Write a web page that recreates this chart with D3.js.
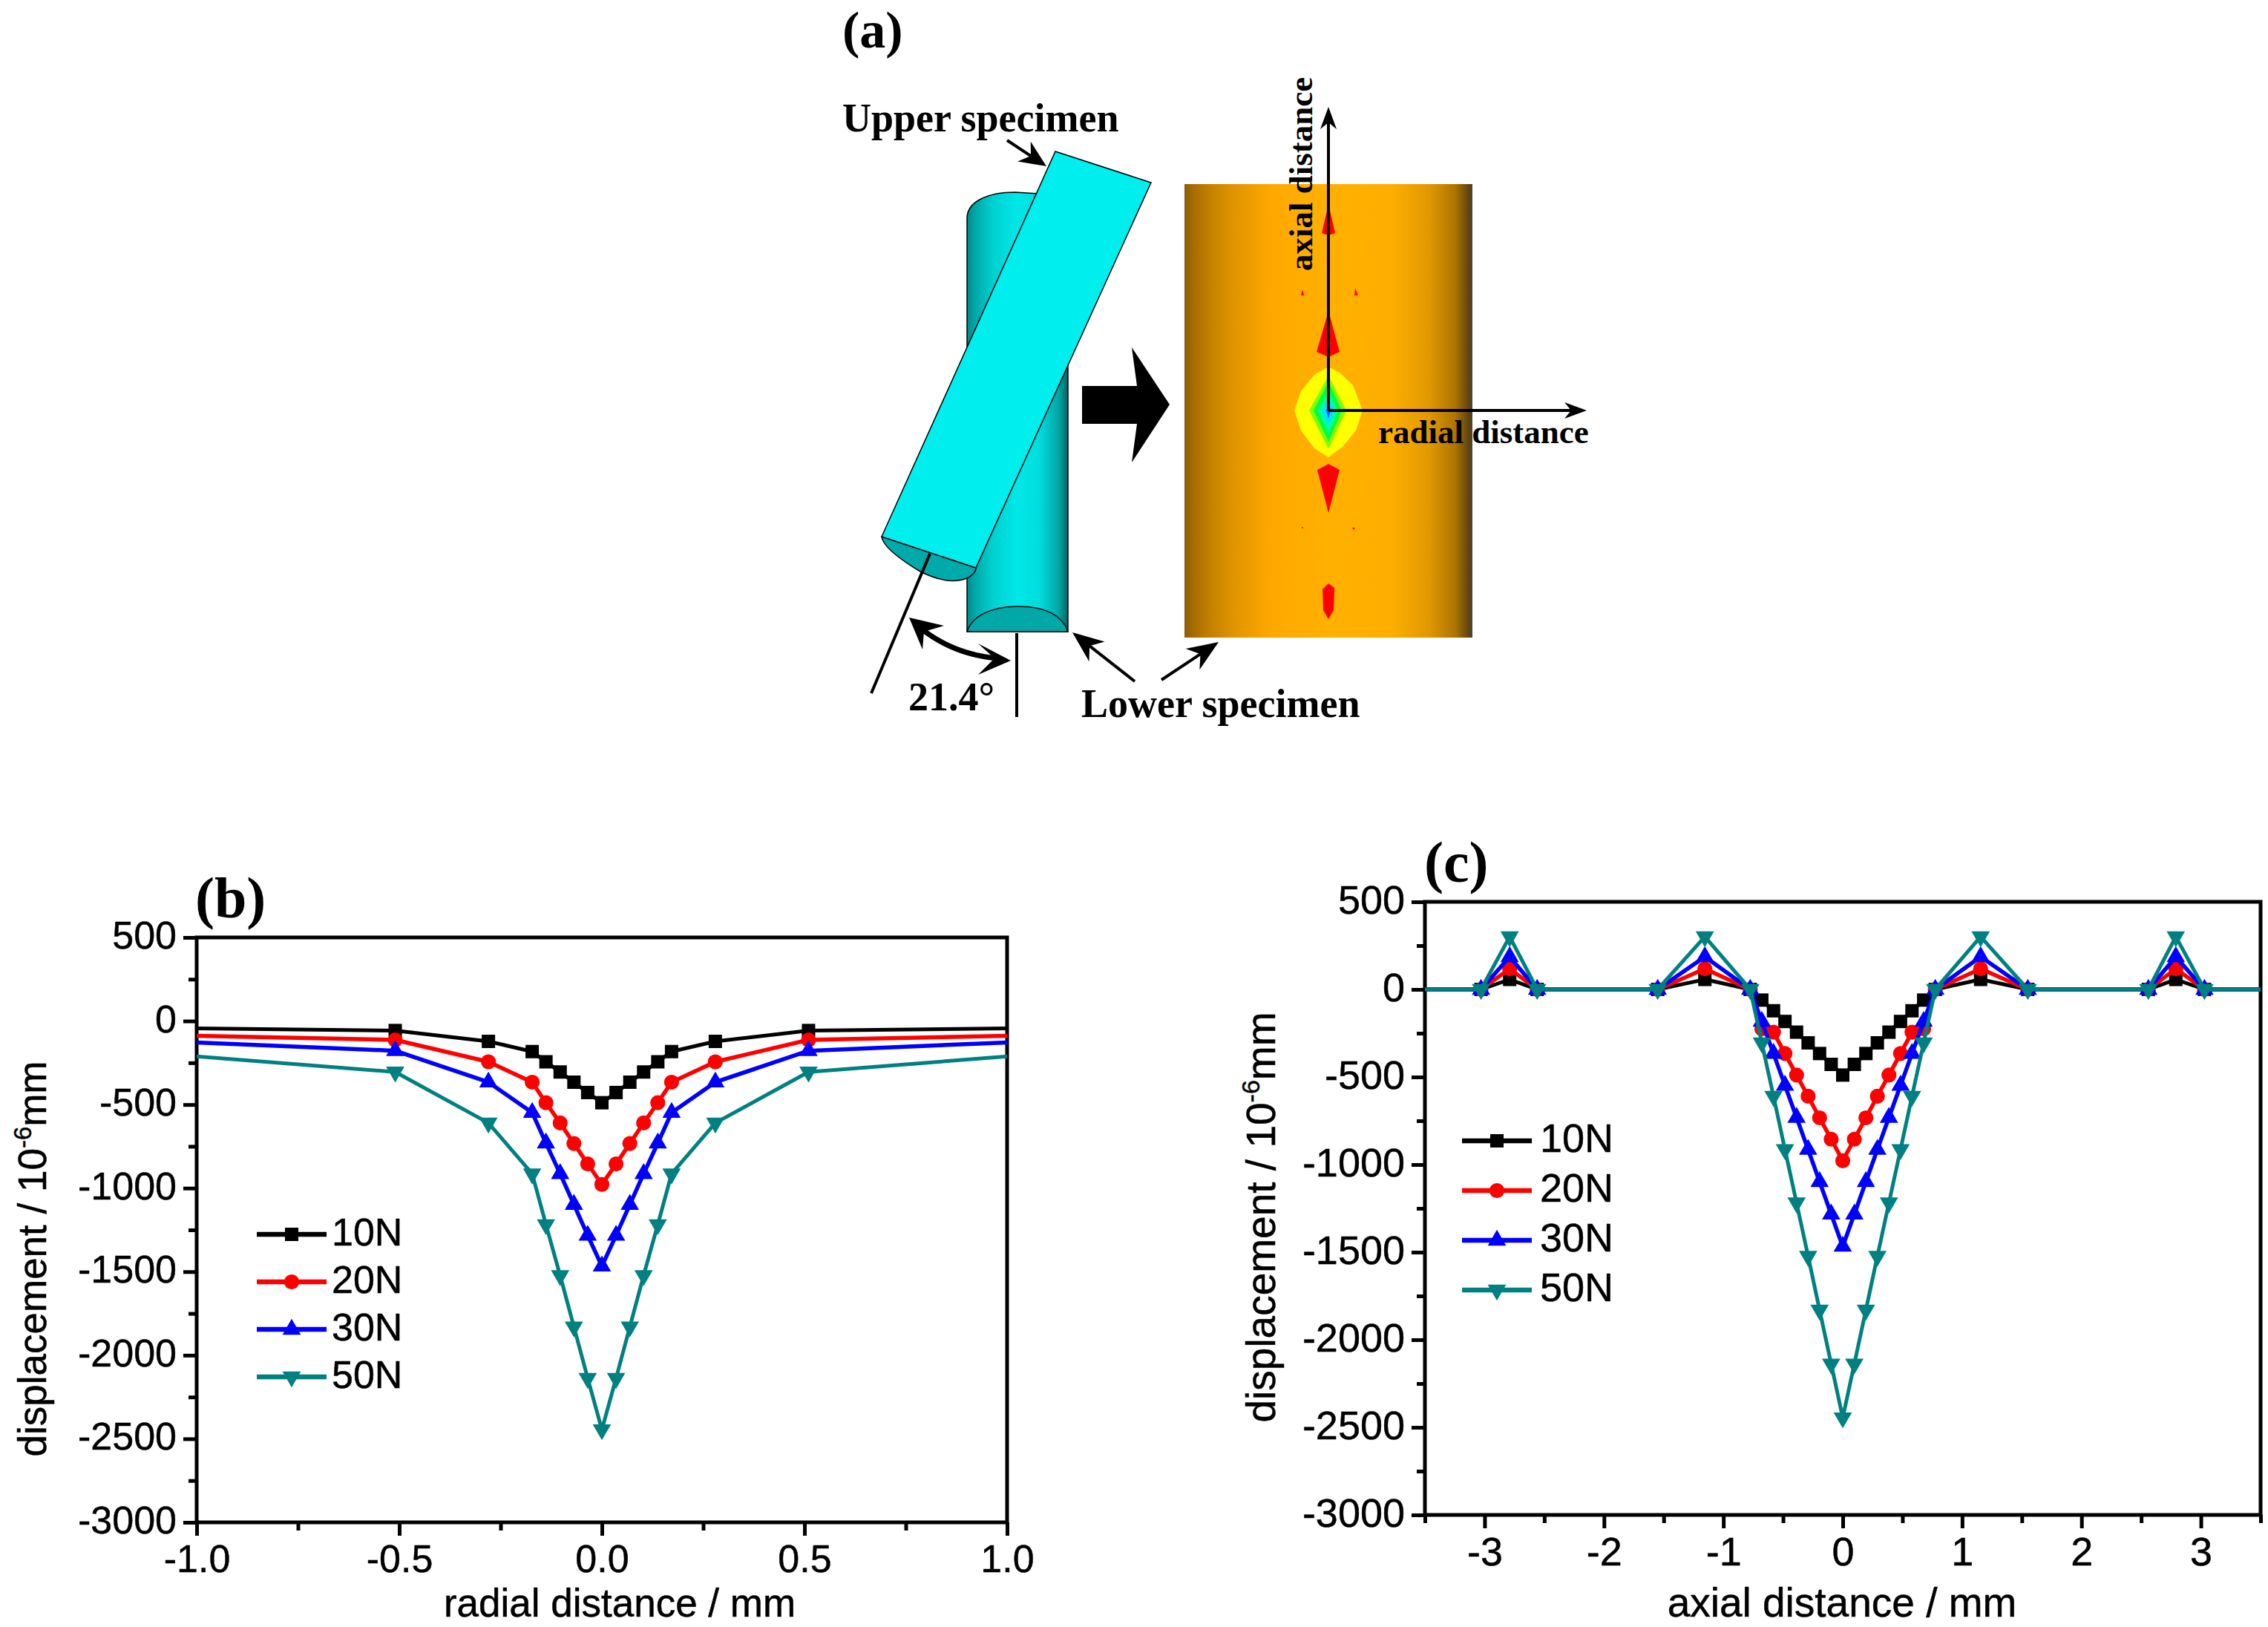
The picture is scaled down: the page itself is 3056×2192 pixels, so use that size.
<!DOCTYPE html>
<html>
<head>
<meta charset="utf-8">
<script src="https://cdn.jsdelivr.net/npm/d3@7"></script>
<style>
  html, body { margin: 0; padding: 0; background: #fff; }
  svg { display: block; }
  text { fill: #000; }
  .sans { font-family: "Liberation Sans", Arial, sans-serif; }
  .sans text { stroke: #000; stroke-width: 0.5px; }
  .serif { font-family: "Liberation Serif", "Times New Roman", serif; font-weight: bold; }
</style>
</head>
<body>
<svg id="figure" width="3056" height="2192"></svg>
<script>
// panel (b), radial distance profile
var radialX = [-1, -0.51, -0.28, -0.172, -0.138, -0.103, -0.069, -0.035, 0, 0.035, 0.069, 0.103, 0.138, 0.172, 0.28, 0.51, 1];
var radial10N = [-44, -57, -122, -183, -244, -305, -366, -428, -489, -428, -366, -305, -244, -183, -122, -57, -44];
var radial20N = [-88, -113, -244, -366, -489, -610, -733, -855, -978, -855, -733, -610, -489, -366, -244, -113, -88];
var radial30N = [-128, -178, -366, -548, -731, -914, -1098, -1283, -1467, -1283, -1098, -914, -731, -548, -366, -178, -128];
var radial50N = [-212, -305, -610, -914, -1218, -1523, -1830, -2138, -2445, -2138, -1830, -1523, -1218, -914, -610, -305, -212];

// panel (c), axial distance profile
var axialX = [-3.5, -3.03, -2.79, -2.56, -1.55, -1.155, -0.775, -0.678, -0.58, -0.484, -0.387, -0.29, -0.194, -0.097, 0,
  0.097, 0.194, 0.29, 0.387, 0.484, 0.58, 0.678, 0.775, 1.155, 1.55, 2.56, 2.79, 3.03, 3.5];
var axial10N = [0, 0, 57, 0, 0, 57, 0, -61, -122, -183, -244, -305, -366, -428, -489,
  -428, -366, -305, -244, -183, -122, -61, 0, 57, 0, 0, 57, 0, 0];
var axial20N = [0, 0, 118, 0, 0, 118, 0, -225, -244, -366, -489, -610, -733, -855, -978,
  -855, -733, -610, -489, -366, -244, -225, 0, 118, 0, 0, 118, 0, 0];
var axial30N = [0, 0, 186, 0, 0, 186, 0, -183, -366, -548, -731, -914, -1098, -1283, -1467,
  -1283, -1098, -914, -731, -548, -366, -183, 0, 186, 0, 0, 186, 0, 0];
var axial50N = [0, 0, 301, 0, 0, 301, 0, -305, -610, -914, -1218, -1523, -1830, -2138, -2445,
  -2138, -1830, -1523, -1218, -914, -610, -305, 0, 301, 0, 0, 301, 0, 0];

var seriesNames = ["10N", "20N", "30N", "50N"];
var seriesColors = ["#000000", "#ff0000", "#0000ff", "#008080"];
var seriesWidths = [5, 5.5, 5.5, 5];

var yMajor = [500, 0, -500, -1000, -1500, -2000, -2500, -3000];
var yMinor = [250, -250, -750, -1250, -1750, -2250, -2750];
var radialMajor = [-1, -0.5, 0, 0.5, 1];
var radialMinor = [-0.75, -0.25, 0.25, 0.75];
var axialMajor = [-3, -2, -1, 0, 1, 2, 3];
var axialMinor = [-3.5, -2.5, -1.5, -0.5, 0.5, 1.5, 2.5, 3.5];

var svg = d3.select("#figure");

function drawMarker(g, index, x, y) {
  var symbols = [
    d3.symbol().type(d3.symbolSquare).size(324),
    d3.symbol().type(d3.symbolCircle).size(320),
    d3.symbol().type(d3.symbolTriangle).size(265),
    d3.symbol().type(d3.symbolTriangle).size(265)
  ];
  g.append("path")
    .attr("d", symbols[index]())
    .attr("fill", seriesColors[index])
    .attr("transform", "translate(" + x + "," + y + ")" + (index === 3 ? " rotate(180)" : ""));
}

function drawPanel(o) {
  var x = d3.scaleLinear().domain(o.xDomain).range([o.left, o.right]);
  var y = d3.scaleLinear().domain([500, -3000]).range([o.top, o.bottom]);
  var g = svg.append("g").attr("class", "sans");

  // minor ticks first, labels come from the major axes
  g.append("g").attr("transform", "translate(0," + o.bottom + ")")
    .call(d3.axisBottom(x).tickValues(o.xMinor).tickSize(11).tickSizeOuter(0).tickFormat(""))
    .call(styleAxis);
  g.append("g").attr("transform", "translate(" + o.left + ",0)")
    .call(d3.axisLeft(y).tickValues(yMinor).tickSize(11).tickSizeOuter(0).tickFormat(""))
    .call(styleAxis);

  g.append("g").attr("transform", "translate(0," + o.bottom + ")")
    .call(d3.axisBottom(x).tickValues(o.xMajor).tickSize(18).tickSizeOuter(0).tickPadding(12).tickFormat(o.xFormat))
    .call(styleAxis)
    .selectAll("text").style("font-size", o.tickFont + "px");
  g.append("g").attr("transform", "translate(" + o.left + ",0)")
    .call(d3.axisLeft(y).tickValues(yMajor).tickSize(18).tickSizeOuter(0).tickPadding(9).tickFormat(String))
    .call(styleAxis)
    .selectAll("text").style("font-size", o.tickFont + "px").attr("dy", "0.28em");

  g.append("rect")
    .attr("x", o.left).attr("y", o.top)
    .attr("width", o.right - o.left).attr("height", o.bottom - o.top)
    .attr("fill", "none").attr("stroke", "#000").attr("stroke-width", 5);

  var line = d3.line()
    .x(function (d) { return x(d.x); })
    .y(function (d) { return y(d.y); });

  o.series.forEach(function (values, i) {
    var points = values.map(function (v, j) { return { x: o.xs[j], y: v }; });
    g.append("path").datum(points)
      .attr("d", line)
      .attr("fill", "none")
      .attr("stroke", seriesColors[i])
      .attr("stroke-width", seriesWidths[i])
      .attr("stroke-linejoin", "round");
    points.forEach(function (p) {
      // no symbols on the two points sitting on the frame
      if (p.x > o.xDomain[0] && p.x < o.xDomain[1]) {
        drawMarker(g, i, x(p.x), y(p.y));
      }
    });
  });

  // legend
  seriesNames.forEach(function (name, i) {
    var ly = o.legendY + i * o.legendStep;
    g.append("line")
      .attr("x1", o.legendX).attr("x2", o.legendX + 94)
      .attr("y1", ly).attr("y2", ly)
      .attr("stroke", seriesColors[i]).attr("stroke-width", 6.5);
    drawMarker(g, i, o.legendX + 47, ly);
    g.append("text")
      .attr("x", o.legendX + o.legendGap).attr("y", ly + o.legendFont * 0.28)
      .style("font-size", o.legendFont + "px")
      .text(name);
  });

  // axis titles
  g.append("text")
    .attr("x", o.xTitleX).attr("y", o.xTitleY)
    .attr("text-anchor", "middle")
    .style("font-size", o.titleFont + "px")
    .text(o.xTitle);

  var yt = g.append("text")
    .attr("transform", "translate(" + o.yTitleX + "," + o.yTitleY + ") rotate(-90)")
    .attr("text-anchor", "middle")
    .style("font-size", o.titleFont + "px");
  yt.append("tspan").text("displacement / 10");
  yt.append("tspan").attr("dy", -o.titleFont * 0.38).style("font-size", (o.titleFont * 0.62) + "px").text("-6");
  yt.append("tspan").attr("dy", o.titleFont * 0.38).text("mm");

  svg.append("text").attr("class", "serif")
    .attr("x", o.labelX).attr("y", o.labelY)
    .style("font-size", o.labelFont + "px")
    .text(o.label);
}

function styleAxis(sel) {
  sel.select(".domain").remove();
  sel.selectAll(".tick line").attr("stroke", "#000").attr("stroke-width", 5);
  sel.selectAll(".tick text").attr("fill", "#000").style("font-family", "'Liberation Sans', Arial, sans-serif");
  sel.attr("font-family", null).attr("font-size", null);
}

drawPanel({
  left: 265, right: 1357, top: 1263, bottom: 2051,
  xDomain: [-1, 1], xs: radialX,
  series: [radial10N, radial20N, radial30N, radial50N],
  xMajor: radialMajor, xMinor: radialMinor,
  xFormat: function (d) { return d.toFixed(1); },
  tickFont: 52, titleFont: 53, legendFont: 52, labelFont: 78,
  legendX: 346, legendY: 1663, legendStep: 64, legendGap: 101,
  xTitle: "radial distance / mm", xTitleX: 835, xTitleY: 2178,
  yTitleX: 62, yTitleY: 1696,
  label: "(b)", labelX: 263, labelY: 1236
});

drawPanel({
  left: 1920, right: 3046, top: 1215, bottom: 2041,
  xDomain: [-3.5, 3.5], xs: axialX,
  series: [axial10N, axial20N, axial30N, axial50N],
  xMajor: axialMajor, xMinor: axialMinor,
  xFormat: String,
  tickFont: 54, titleFont: 55, legendFont: 54, labelFont: 78,
  legendX: 1970, legendY: 1537, legendStep: 67, legendGap: 105,
  xTitle: "axial distance / mm", xTitleX: 2482, xTitleY: 2178,
  yTitleX: 1718, yTitleY: 1640,
  label: "(c)", labelX: 1919, labelY: 1188
});

// panel (a), the sketch of the crossed cylinders
var defs = svg.append("defs");

function gradient(id, stops) {
  var g = defs.append("linearGradient").attr("id", id)
    .attr("x1", "0%").attr("x2", "100%").attr("y1", "0%").attr("y2", "0%");
  stops.forEach(function (s) {
    g.append("stop").attr("offset", s[0]).attr("stop-color", s[1]);
  });
}
gradient("lowerBody", [["0%", "#008888"], ["8%", "#00a8a8"], ["25%", "#00d0d0"], ["50%", "#00e8e8"], ["72%", "#00dcdc"], ["90%", "#00a8a8"], ["97%", "#007c7c"], ["100%", "#005c5c"]]);
gradient("orange", [["0%", "#8a5c08"], ["3%", "#a86c00"], ["10%", "#c88400"], ["17%", "#e09400"], ["30%", "#ffa800"], ["50%", "#ffb000"], ["72%", "#fdae00"],
  ["85%", "#e09800"], ["94%", "#ae7400"], ["99%", "#5c4210"], ["100%", "#444444"]]);

var sketch = svg.append("g");

function poly(points, fill, stroke, width) {
  return sketch.append("path")
    .attr("d", d3.line()(points) + "Z")
    .attr("fill", fill)
    .attr("stroke", stroke || "none")
    .attr("stroke-width", width || 0);
}

// straight arrow with a barbed head, tip at (x2, y2)
function arrow(x1, y1, x2, y2, len, half, width) {
  var a = Math.atan2(y2 - y1, x2 - x1);
  var ux = Math.cos(a), uy = Math.sin(a);
  sketch.append("line")
    .attr("x1", x1).attr("y1", y1)
    .attr("x2", x2 - ux * len * 0.6).attr("y2", y2 - uy * len * 0.6)
    .attr("stroke", "#000").attr("stroke-width", width);
  poly([
    [x2, y2],
    [x2 - ux * len - uy * half, y2 - uy * len + ux * half],
    [x2 - ux * len * 0.7, y2 - uy * len * 0.7],
    [x2 - ux * len + uy * half, y2 - uy * len - ux * half]
  ], "#000");
}

// lower specimen, left view
sketch.append("path")
  .attr("d", "M1303 851 L1303 294 C1303 272 1330 259 1368 259 L1400 261 L1439 300 L1439 851 Z")
  .attr("fill", "url(#lowerBody)").attr("stroke", "#000").attr("stroke-width", 1.5);
sketch.append("path")
  .attr("d", "M1303 851 C1310 830 1335 817 1372 817 C1410 817 1432 830 1439 851 Z")
  .attr("fill", "#00a8a8").attr("stroke", "#000").attr("stroke-width", 1.5);

// upper specimen
sketch.append("path")
  .attr("d", "M1188 723 Q1190 740 1240 770 Q1280 790 1305 778 Q1315 772 1315 765 Z")
  .attr("fill", "#00aaaa").attr("stroke", "#000").attr("stroke-width", 1.5);
sketch.append("line").attr("x1", 1253).attr("y1", 746).attr("x2", 1174).attr("y2", 934)
  .attr("stroke", "#000").attr("stroke-width", 4);
poly([[1422, 204], [1551, 246], [1315, 765], [1188, 723]], "#00eeee", "#000", 1.5);

sketch.append("line").attr("x1", 1370).attr("y1", 853).attr("x2", 1370).attr("y2", 966)
  .attr("stroke", "#000").attr("stroke-width", 4);

// angle marker
sketch.append("path")
  .attr("d", "M1240 846 Q1285 882 1345 887")
  .attr("fill", "none").attr("stroke", "#000").attr("stroke-width", 7);
poly([[1225, 832], [1272, 843], [1245, 851], [1243, 875]], "#000");
poly([[1362, 890], [1318, 867], [1340, 887], [1318, 909]], "#000");

arrow(1357, 189, 1410, 224, 36, 16, 4);
arrow(1529, 918, 1445, 852, 42, 17, 4);
arrow(1565, 916, 1642, 865, 42, 17, 4);

// big arrow between the views
poly([[1458, 520], [1532, 520], [1525, 468], [1576, 545], [1525, 623], [1532, 571], [1458, 571]], "#000");

// lower specimen, contour view
sketch.append("rect").attr("x", 1596).attr("y", 248).attr("width", 388).attr("height", 611)
  .attr("fill", "url(#orange)");

var cx = 1790, cy = 553;
var contourFills = ["#ffff00", "#80ff00", "#00ff40", "#00ffa0", "#00e0ff", "#0060ff"];
var contourShapes = [
  [[0, -59], [15, -51], [33, -34], [40, -16], [46, 0], [37, 27], [19, 49], [0, 63], [-19, 51], [-37, 27], [-46, 0], [-37, -26], [-19, -48]],
  [[0, -47], [24, 0], [0, 52], [-26, 0]],
  [[0, -39], [18, 0], [0, 42], [-20, 0]],
  [[0, -26], [13, 0], [0, 31], [-14, 0]],
  [[0, -16], [8, 0], [0, 21], [-9, 0]],
  [[0, -8], [3, 0], [0, 11], [-3, 0]]
];
var redShapes = [
  [[0, -134], [15, -79], [0, -72], [-16, -79]],
  [[0, 72], [15, 80], [0, 138], [-15, 80]],
  [[0, 233], [8, 239], [7, 269], [0, 281], [-7, 269], [-8, 241]],
  [[0, -278], [9, -239], [0, -236], [-9, -239]],
  [[-37, -155], [-33, -155], [-35, -163]],
  [[35, -155], [40, -155], [36, -165]],
  [[-36, 157], [-34, 157], [-35, 160]],
  [[32, 158], [36, 158], [34, 161]]
];
function shifted(shape) {
  return shape.map(function (p) { return [cx + p[0], cy + p[1]]; });
}
redShapes.forEach(function (s) { poly(shifted(s), "#ff0000"); });
contourShapes.forEach(function (s, i) { poly(shifted(s), contourFills[i]); });

arrow(cx, cy, cx, 144, 30, 11, 4);
arrow(cx, cy, 2138, cy, 30, 11, 4);

function serif(str, x, y, size, rotate) {
  var t = svg.append("text").attr("class", "serif").style("font-size", size + "px").text(str);
  if (rotate) {
    t.attr("transform", "translate(" + x + "," + y + ") rotate(-90)");
  } else {
    t.attr("x", x).attr("y", y);
  }
}
serif("(a)", 1135, 64, 70);
serif("Upper specimen", 1135, 177, 54);
serif("Lower specimen", 1457, 966, 54);
serif("21.4°", 1224, 957, 54);
serif("axial distance", 1768, 365, 45, true);
serif("radial distance", 1857, 597, 45);
</script>
</body>
</html>
